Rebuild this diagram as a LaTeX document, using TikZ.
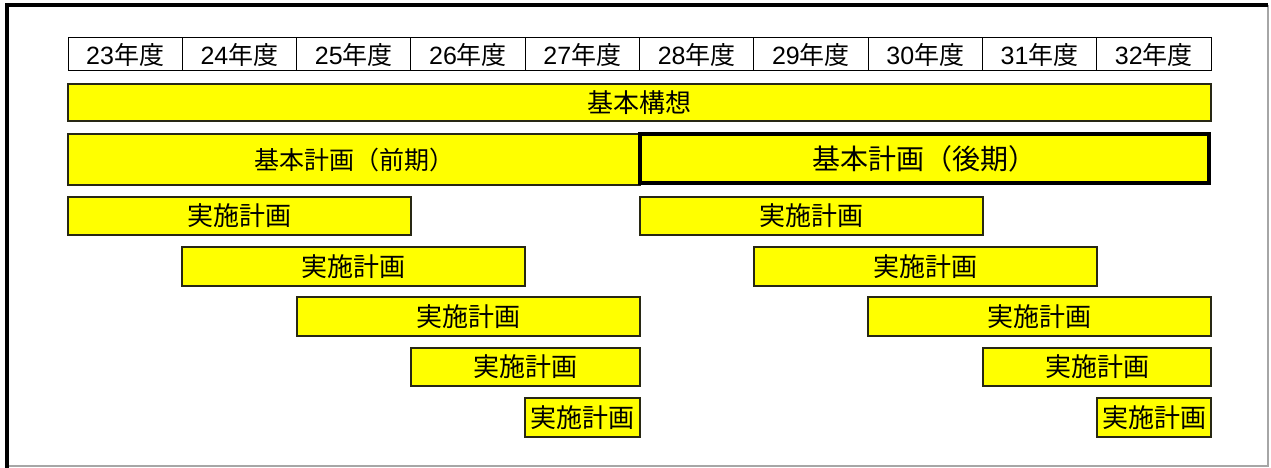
\documentclass[tikz,border=0pt]{standalone}
\usepackage{fontspec}
\setmainfont{Liberation Sans}
\newfontfamily\cjk{Noto Sans CJK JP}
\newcommand{\nendo}[1]{{\rmfamily #1}{\cjk 年度}}
\definecolor{yl}{RGB}{255,255,0}
\definecolor{edge}{RGB}{40,40,20}
\begin{document}
\begin{tikzpicture}[x=1pt,y=-1pt,
  cell/.style={draw=black,line width=1pt,fill=white,inner sep=0pt,outer sep=0pt,minimum height=33pt,minimum width=114.3pt,font=\fontsize{25}{25}\selectfont},
  ybox/.style={draw=edge,line width=1.6pt,fill=yl,inner sep=0pt,outer sep=0pt,font=\fontsize{26}{26}\selectfont\cjk},
  bbox/.style={draw=black,line width=4.5pt,fill=yl,inner sep=0pt,outer sep=0pt,font=\fontsize{28}{28}\selectfont\cjk}
]
\useasboundingbox (0,0) rectangle (1271,468);
\fill[white] (0,0) rectangle (1271,468);
% frame
\draw[gray!70,line width=1.2pt] (7,466) -- (1268,466) -- (1268,5);
\draw[black,line width=4.5pt] (7,468) -- (7,5) -- (1268,5);
% header
\foreach \i/\y in {0/23,1/24,2/25,3/26,4/27,5/28,6/29,7/30,8/31,9/32}{
  \node[cell] (h\i) at ({68+114.3*\i+57.15},54.5) {\nendo{\y}};
}
% rows
\node[ybox,minimum width=1143pt,minimum height=37pt] (kousou) at (639.5,102.5) {基本構想};
\node[ybox,minimum width=572pt,minimum height=51pt,font=\fontsize{25}{25}\selectfont\cjk] (zenki) at (354,159.5) {基本計画（前期）};
\node[bbox,minimum width=569pt,minimum height=49pt] (kouki) at (924.5,158.5) {基本計画（後期）};
% 実施計画 front
\node[ybox,minimum width=343pt,minimum height=38pt] (a1) at (239.5,216) {実施計画};
\node[ybox,minimum width=343pt,minimum height=39pt] (a2) at (353.5,266.5) {実施計画};
\node[ybox,minimum width=343pt,minimum height=39pt] (a3) at (468.5,316.5) {実施計画};
\node[ybox,minimum width=229pt,minimum height=38pt] (a4) at (525.5,367) {実施計画};
\node[ybox,minimum width=115pt,minimum height=39pt] (a5) at (582.5,417.5) {実施計画};
% 実施計画 back
\node[ybox,minimum width=343pt,minimum height=38pt] (b1) at (811.5,216) {実施計画};
\node[ybox,minimum width=343pt,minimum height=39pt] (b2) at (925.5,266.5) {実施計画};
\node[ybox,minimum width=343pt,minimum height=39pt] (b3) at (1039.5,316.5) {実施計画};
\node[ybox,minimum width=228pt,minimum height=38pt] (b4) at (1097,367) {実施計画};
\node[ybox,minimum width=114pt,minimum height=39pt] (b5) at (1154,417.5) {実施計画};
\end{tikzpicture}
\end{document}
